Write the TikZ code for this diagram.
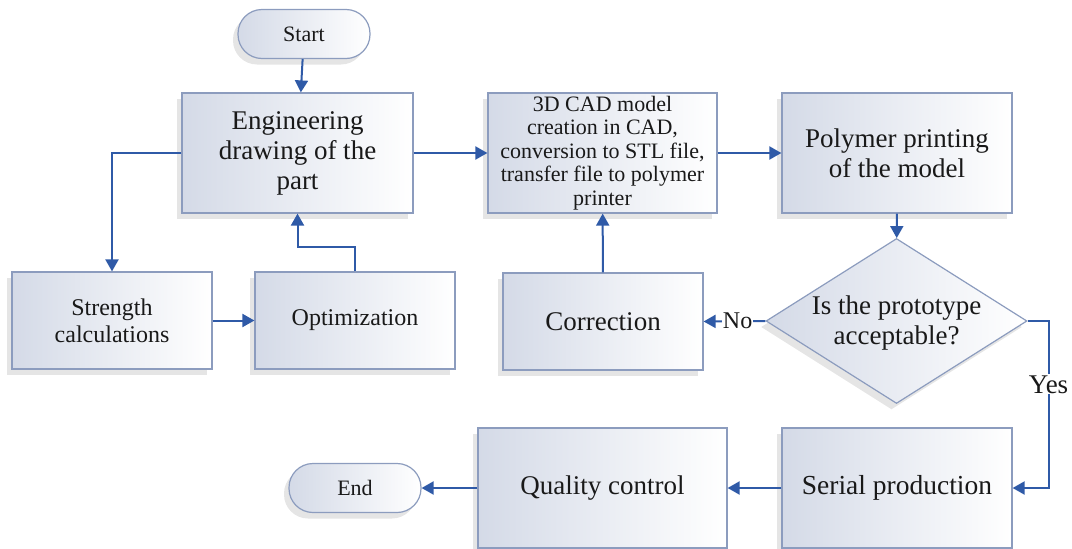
\documentclass[tikz,border=0pt]{standalone}
\usepackage{fontspec}
\setmainfont{Liberation Serif}
\usetikzlibrary{arrows.meta,shapes.geometric,shadows}
\definecolor{arrowblue}{RGB}{47,90,167}
\definecolor{boxborder}{RGB}{140,156,190}
\definecolor{boxgrey}{RGB}{212,218,231}
\definecolor{txt}{RGB}{25,25,25}
\tikzset{
  boxbase/.style={draw=boxborder, line width=1.2pt, left color=boxgrey, right color=white,
    inner sep=2pt, align=center, text=txt,
    drop shadow={shadow xshift=-5pt, shadow yshift=-6pt, opacity=0.10, fill=black}},
  procbox/.style={boxbase, rectangle, minimum width=#1, minimum height=120pt, font=\fontsize{27}{30}\selectfont},
  smallbox/.style={boxbase, rectangle, minimum width=200pt, minimum height=97pt},
  pill/.style={boxbase, rectangle, rounded corners=24pt, minimum width=132pt, minimum height=49pt, font=\fontsize{22}{24}\selectfont},
  decision/.style={boxbase, diamond, minimum width=261pt, minimum height=165pt, inner sep=0pt},
  conn/.style={draw=arrowblue, line width=2pt, -{Triangle[length=12pt,width=13pt]}},
  lbl/.style={fill=white, inner sep=1pt, text=txt}
}
\begin{document}
\begin{tikzpicture}[x=1pt,y=-1pt]
\useasboundingbox (0,0) rectangle (1072,549);
% nodes
\node[pill] (start) at (304,34) {Start};
\node[procbox=231pt] (eng) at (297.5,153) {Engineering\\drawing of the\\part};
\node[procbox=229pt, font=\fontsize{22}{23.5}\selectfont] (cad) at (602.5,153) {3D CAD model\\creation in CAD,\\conversion to STL file,\\transfer file to polymer\\printer};
\node[procbox=230pt] (poly) at (897,153) {Polymer printing\\of the model};
\node[decision] (dec) at (896.5,321) {};
\node[text=txt, align=center, font=\fontsize{27}{30}\selectfont] (dectext) at (896.5,323) {Is the prototype\\acceptable?};
\node[smallbox, font=\fontsize{24}{27}\selectfont] (str) at (112,320.5) {Strength\\calculations};
\node[smallbox, font=\fontsize{24}{27}\selectfont] (opt) at (355,320.5) {Optimization};
\node[smallbox, font=\fontsize{27}{29}\selectfont] (corr) at (603,321.5) {Correction};
\node[procbox=230pt, font=\fontsize{27.5}{29}\selectfont] (serial) at (897,488) {Serial production};
\node[procbox=249pt, font=\fontsize{27}{29}\selectfont] (qual) at (602.5,488) {Quality control};
\node[pill] (end) at (355,488) {End};
% connectors
\draw[conn] (start) -- (eng);
\draw[conn] (eng) -- (cad);
\draw[conn] (cad) -- (poly);
\draw[conn] (poly) -- (dec);
\draw[conn] (eng.west) -| (str.north);
\draw[conn] (str) -- (opt);
\draw[conn] (opt.north) -- ++(0,-24) -| (eng.south);
\draw[conn] (dec.west) -- node[lbl, pos=0.45, font=\fontsize{24}{26}\selectfont] {No} (corr.east);
\draw[conn] (corr) -- (cad);
\draw[conn] (dec.east) -- ++(21,0) |- node[lbl, pos=0.19, font=\fontsize{27}{29}\selectfont] {Yes} (serial.east);
\draw[conn] (serial) -- (qual);
\draw[conn] (qual) -- (end);
\end{tikzpicture}
\end{document}
